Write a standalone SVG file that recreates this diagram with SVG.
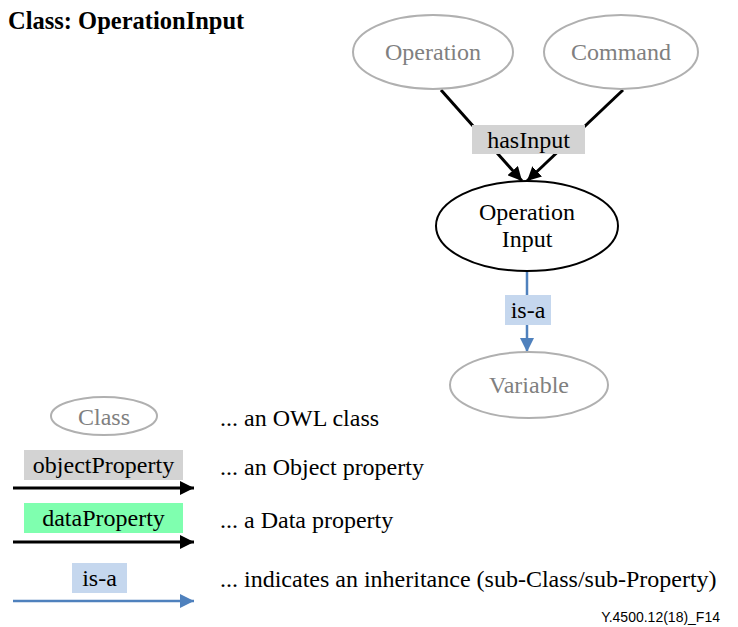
<svg xmlns="http://www.w3.org/2000/svg" width="738" height="627" viewBox="0 0 738 627">
<defs>
<style>
text{font-family:"Liberation Serif","Times New Roman",serif;font-size:24px;fill:#000}
.g ellipse{fill:#fff;stroke:#b0b0b0;stroke-width:2}
.g text{fill:#808080}
.m{text-anchor:middle}
.obj{fill:#d3d3d3}
.dat{fill:#7fffaf}
.isa{fill:#c5d7ee}
.bl{stroke:#000;stroke-width:3;fill:none}
.bu{stroke:#4f81bd;stroke-width:2.5;fill:none}
</style>
<marker id="ab" markerWidth="14" markerHeight="14" viewBox="0 0 14 14" refX="14" refY="7" orient="auto" markerUnits="userSpaceOnUse"><path d="M0,0 L14,7 L0,14 z" fill="#000"/></marker>
<marker id="au" markerWidth="14" markerHeight="14" viewBox="0 0 14 14" refX="14" refY="7" orient="auto" markerUnits="userSpaceOnUse"><path d="M0,0 L14,7 L0,14 z" fill="#4f81bd"/></marker>
</defs>
<rect width="738" height="627" fill="#fff"/>
<text x="8" y="29" style="font-weight:bold;font-size:24.5px">Class: OperationInput</text>
<g id="connectors">
<line class="bl" x1="441" y1="90" x2="522" y2="181" marker-end="url(#ab)"/>
<line class="bl" x1="623" y1="90" x2="527" y2="181" marker-end="url(#ab)"/>
<rect class="obj" x="472" y="125" width="113" height="29"/>
<text class="m" x="528.5" y="148">hasInput</text>
<line class="bu" x1="527" y1="272" x2="527" y2="352" marker-end="url(#au)"/>
<rect class="isa" x="505" y="295" width="46" height="30"/>
<text class="m" x="528" y="318">is-a</text>
</g>
<g id="Operation" class="g"><ellipse cx="433" cy="52" rx="80" ry="37"/><text class="m" x="433" y="60">Operation</text></g>
<g id="Command" class="g"><ellipse cx="621" cy="52" rx="77" ry="37"/><text class="m" x="621" y="60">Command</text></g>
<g id="OperationInput"><ellipse cx="527" cy="226" rx="91" ry="45" fill="#fff" stroke="#000" stroke-width="2"/><text class="m" x="527" y="220">Operation</text><text class="m" x="527" y="247">Input</text></g>
<g id="Variable" class="g"><ellipse cx="529" cy="385" rx="79" ry="33"/><text class="m" x="529" y="393">Variable</text></g>
<g id="legend">
<g class="g"><ellipse cx="104" cy="416" rx="53" ry="19"/><text class="m" x="104" y="425">Class</text></g>
<text x="220" y="426">... an OWL class</text>
<rect class="obj" x="24" y="450" width="159" height="30"/>
<text class="m" x="103.5" y="473">objectProperty</text>
<line class="bl" x1="13" y1="488" x2="194" y2="488" marker-end="url(#ab)"/>
<text x="220" y="475">... an Object property</text>
<rect class="dat" x="24" y="503" width="159" height="30"/>
<text class="m" x="103.5" y="526">dataProperty</text>
<line class="bl" x1="13" y1="542" x2="194" y2="542" marker-end="url(#ab)"/>
<text x="220" y="528">... a Data property</text>
<rect class="isa" x="72" y="563" width="55" height="30"/>
<text class="m" x="99.5" y="586">is-a</text>
<line class="bu" x1="13" y1="601" x2="194" y2="601" marker-end="url(#au)"/>
<text x="220" y="587">... indicates an inheritance (sub-Class/sub-Property)</text>
</g>
<text x="720" y="622" style="font-family:'Liberation Sans',Arial,sans-serif;font-size:14px;text-anchor:end">Y.4500.12(18)_F14</text>
</svg>
